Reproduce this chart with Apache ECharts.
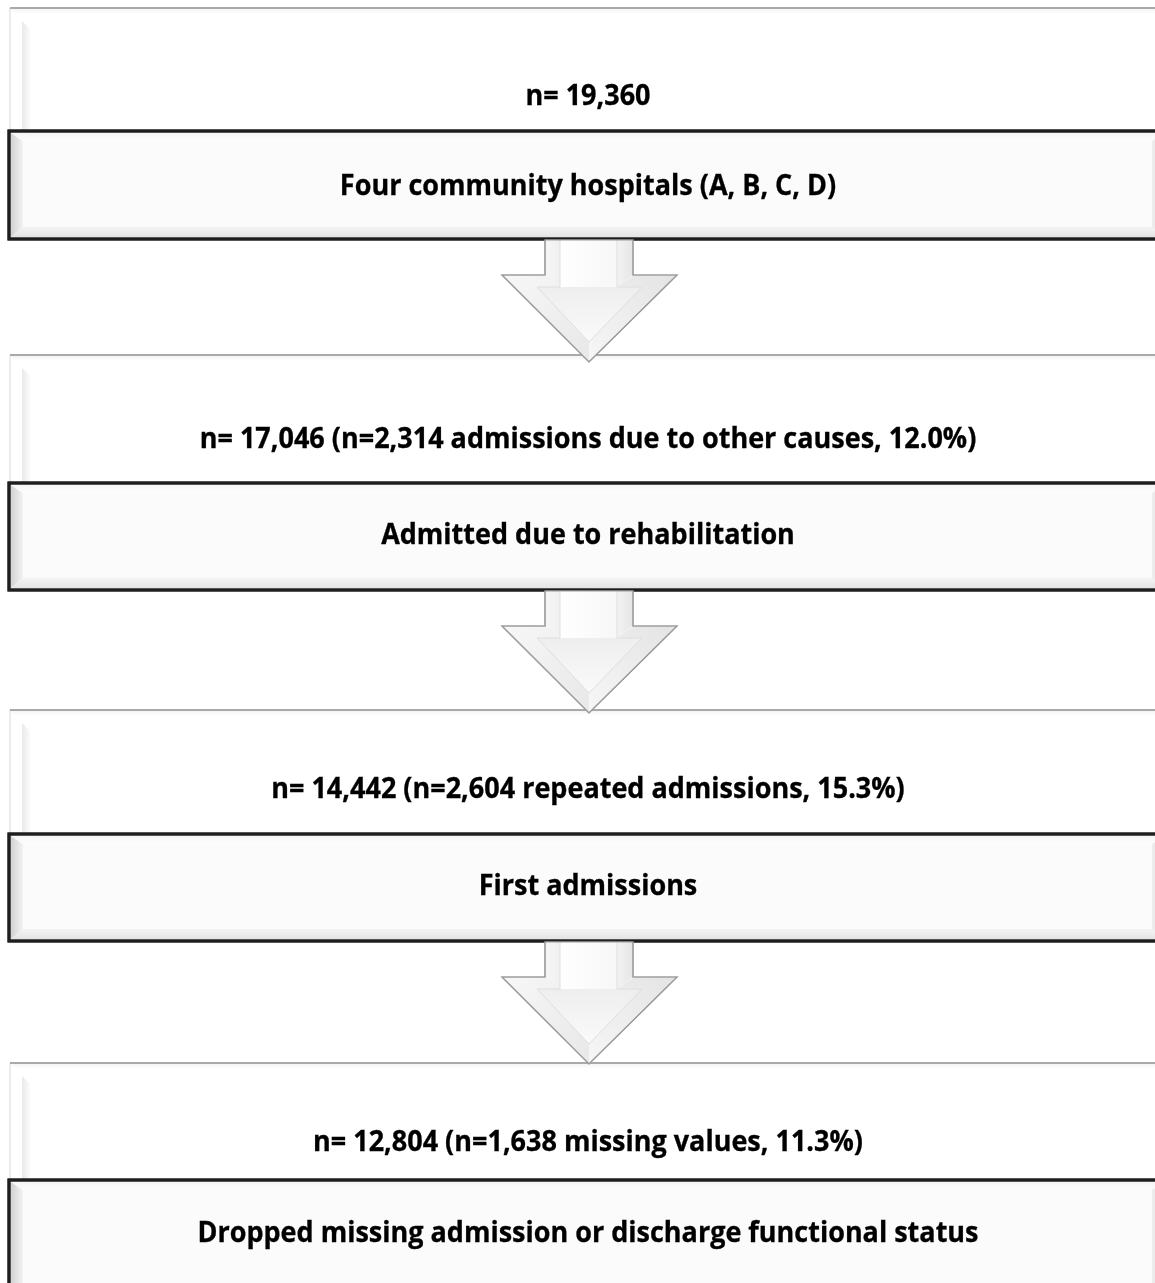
<!DOCTYPE html>
<html>
<head>
<meta charset="utf-8">
<script src="https://cdn.jsdelivr.net/npm/echarts@6/dist/echarts.min.js"></script>
<style>
html,body{margin:0;padding:0;background:#fff;}
#chart{width:1155px;height:1283px;}
</style>
</head>
<body>
<div id="chart"></div>
<script>
// ---- data ----
const stepCounts = [
  'n= 19,360',
  'n= 17,046 (n=2,314 admissions due to other causes, 12.0%)',
  'n= 14,442 (n=2,604 repeated admissions, 15.3%)',
  'n= 12,804 (n=1,638 missing values, 11.3%)'
];
const stepLabels = [
  'Four community hospitals (A, B, C, D)',
  'Admitted due to rehabilitation',
  'First admissions',
  'Dropped missing admission or discharge functional status'
];

// ---- layout (pixels) ----
const whiteTop = [8, 355, 710, 1063];
const blackTop = [131, 483, 834, 1180];
const blackBottom = [239, 590, 941, 1295];
const countY = [97, 440, 790, 1143];
const labelY = [187, 536, 887, 1234];
const boxLeft = 10, boxRight = 1166, cx = 588;
const FONT = '"Open Sans", "Liberation Sans", sans-serif';

const chart = echarts.init(document.getElementById('chart'), null, {renderer: 'canvas'});
const els = [];

function grad(x, y, x2, y2, c1, c2) {
  return {type: 'linear', x: x, y: y, x2: x2, y2: y2, colorStops: [{offset: 0, color: c1}, {offset: 1, color: c2}]};
}

function whiteBox(t, b, z) {
  els.push({type: 'rect', z: z, shape: {x: boxLeft, y: t, width: boxRight - boxLeft, height: b - t},
    style: {fill: '#ffffff', stroke: '#d8d8d8', lineWidth: 1}});
  els.push({type: 'line', z: z + 1, shape: {x1: boxLeft, y1: t, x2: boxRight, y2: t},
    style: {stroke: '#a9a9a9', lineWidth: 2}});
  els.push({type: 'polygon', z: z + 1, shape: {points: [[boxLeft + 12, t + 13], [boxLeft + 20, t + 21], [boxLeft + 20, b], [boxLeft + 12, b]]},
    style: {fill: grad(0, 0, 1, 0, '#e9e9e9', '#fbfbfb')}});
  els.push({type: 'polygon', z: z + 1, shape: {points: [[boxLeft + 1, t + 1], [boxRight, t + 1], [boxRight, t + 6], [boxLeft + 6, t + 6]]},
    style: {fill: grad(0, 0, 0, 1, '#f4f4f4', '#ffffff')}});
}

function blackBox(t, b, z) {
  const L = 9, R = boxRight, bw = 12;
  els.push({type: 'rect', z: z, shape: {x: L, y: t, width: R - L, height: b - t},
    style: {fill: '#fbfbfb', stroke: '#1e1e1e', lineWidth: 3}});
  els.push({type: 'polygon', z: z + 1, shape: {points: [[L + 2, t + 2], [L + 2 + bw, t + 2 + 8], [L + 2 + bw, b - 2 - 10], [L + 2, b - 2]]},
    style: {fill: grad(0, 0, 1, 0, '#d2d2d2', '#f3f3f3')}});
  els.push({type: 'polygon', z: z + 1, shape: {points: [[L + 2, t + 2], [R - 2, t + 2], [R - 2 - bw, t + 10], [L + 2 + bw, t + 10]]},
    style: {fill: grad(0, 0, 0, 1, '#f6f6f6', '#fdfdfd')}});
  els.push({type: 'polygon', z: z + 1, shape: {points: [[L + 2 + bw, b - 12], [R - 2 - bw, b - 12], [R - 2, b - 2], [L + 2, b - 2]]},
    style: {fill: grad(0, 0, 0, 1, '#f4f4f4', '#e4e4e4')}});
  els.push({type: 'polygon', z: z + 1, shape: {points: [[R - 2 - bw, t + 10], [R - 2, t + 2], [R - 2, b - 2], [R - 2 - bw, b - 12]]},
    style: {fill: grad(0, 0, 1, 0, '#eeeeee', '#dedede')}});
  els.push({type: 'rect', z: z + 2, shape: {x: L, y: t, width: R - L, height: b - t},
    style: {fill: null, stroke: '#1e1e1e', lineWidth: 3}});
}

function arrow(top, z) {
  const headY = top + 35, tip = top + 122;
  const sL = 545, sR = 633, hL = 502, hR = 677, tx = 589;
  els.push({type: 'polygon', z: z, shape: {points: [[sL, top], [sR, top], [sR, headY], [hR, headY], [tx, tip], [hL, headY], [sL, headY]]},
    style: {fill: '#f2f2f2', stroke: '#a0a0a0', lineWidth: 1.2}});
  els.push({type: 'polygon', z: z + 1, shape: {points: [[sL + 1, top], [sL + 15, top], [sL + 15, headY + 12], [sL + 1, headY]]},
    style: {fill: grad(0, 0, 1, 0, '#f6f6f6', '#f0f0f0')}});
  els.push({type: 'polygon', z: z + 1, shape: {points: [[sL + 15, top], [sR - 16, top], [sR - 16, headY + 12], [sL + 15, headY + 12]]},
    style: {fill: grad(0, 0, 1, 0, '#ffffff', '#f7f7f7')}});
  els.push({type: 'polygon', z: z + 1, shape: {points: [[sR - 16, top], [sR - 1, top], [sR - 1, headY], [sR - 16, headY + 12]]},
    style: {fill: grad(0, 0, 1, 0, '#f3f3f3', '#e6e6e6')}});
  els.push({type: 'polygon', z: z + 1, shape: {points: [[hL + 2, headY + 1], [sL, headY + 1], [sL + 15, headY + 12], [hL + 35, headY + 12], [tx, tip - 20], [tx, tip - 2]]},
    style: {fill: grad(0, 0, 1, 1, '#f7f7f7', '#e8e8e8')}});
  els.push({type: 'polygon', z: z + 1, shape: {points: [[hL + 35, headY + 12], [hR - 35, headY + 12], [tx, tip - 20]]},
    style: {fill: grad(0, 0, 0, 1, '#eeeeee', '#fafafa')}});
  els.push({type: 'polygon', z: z + 1, shape: {points: [[hR - 2, headY + 1], [sR, headY + 1], [sR - 16, headY + 12], [hR - 35, headY + 12], [tx, tip - 20], [tx, tip - 2]]},
    style: {fill: grad(1, 0, 0, 1, '#e4e4e4', '#f6f6f6')}});
  els.push({type: 'polyline', z: z + 2, shape: {points: [[sL + 15, top], [sL + 15, headY + 12], [hL + 35, headY + 12], [tx, tip - 20], [hR - 35, headY + 12], [sR - 16, headY + 12], [sR - 16, top]]},
    style: {stroke: '#dedede', lineWidth: 1, fill: null}});
  els.push({type: 'polygon', z: z + 3, shape: {points: [[sL, top], [sR, top], [sR, headY], [hR, headY], [tx, tip], [hL, headY], [sL, headY]]},
    style: {fill: null, stroke: '#9c9c9c', lineWidth: 1.2}});
}

function addText(str, y) {
  els.push({type: 'text', z: 30, x: cx, y: y, scaleY: 1.08,
    style: {text: str, x: 0, y: 0, align: 'center', verticalAlign: 'middle',
      font: 'bold 27px ' + FONT, fill: '#000', stroke: '#000', lineWidth: 0.3}});
}

for (let i = 0; i < 4; i++) {
  whiteBox(whiteTop[i], blackTop[i], 1);
  blackBox(blackTop[i], blackBottom[i], 10);
  if (i < 3) arrow(blackBottom[i] + 1, 20);
  addText(stepCounts[i], countY[i]);
  addText(stepLabels[i], labelY[i]);
}

chart.setOption({
  backgroundColor: '#ffffff',
  animation: false,
  graphic: {elements: els}
});
</script>
</body>
</html>
